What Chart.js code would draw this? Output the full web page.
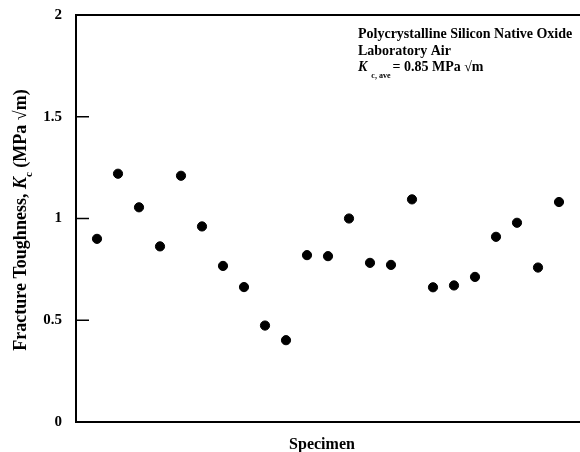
<!DOCTYPE html>
<html lang="en">
<head>
    <meta charset="UTF-8">
    <title>Fracture Toughness</title>
    <script src="https://cdn.jsdelivr.net/npm/chart.js"></script>
    <style>
        body { margin: 0; background: #fff; overflow: hidden; }
        #wrap { width: 580px; height: 452px; }
    </style>
</head>
<body>
    <div id="wrap"><canvas id="chart"></canvas></div>

    <script>
        // specimen number and measured Kc (MPa sqrt m)
        const specimens = [1, 2, 3, 4, 5, 6, 7, 8, 9, 10, 11, 12, 13, 14, 15, 16, 17, 18, 19, 20, 21, 22, 23];
        const toughness = [0.90, 1.22, 1.055, 0.863, 1.21, 0.961, 0.767, 0.663, 0.474, 0.402, 0.82, 0.815,
                           1.00, 0.782, 0.772, 1.094, 0.662, 0.671, 0.713, 0.91, 0.979, 0.759, 1.081];
        const yTicks = [0, 0.5, 1, 1.5, 2];
        const noteLines = ['Polycrystalline Silicon Native Oxide', 'Laboratory Air'];

        const SERIF = '"Liberation Serif", "Times New Roman", serif';

        // draws a row of text pieces, each with its own font and vertical shift
        function drawRuns(ctx, x, y, runs) {
            runs.forEach(r => {
                ctx.font = r.font;
                ctx.fillText(r.text, x, y + (r.dy || 0));
                x += ctx.measureText(r.text).width;
            });
        }

        const decor = {
            id: 'decor',
            afterDraw(chart) {
                const ctx = chart.ctx;
                const a = chart.chartArea;
                const y = chart.scales.y;
                ctx.save();
                ctx.strokeStyle = '#000';
                ctx.fillStyle = '#000';

                // top frame line
                ctx.lineWidth = 2;
                ctx.beginPath();
                ctx.moveTo(a.left, a.top);
                ctx.lineTo(a.right, a.top);
                ctx.stroke();

                // short inward tick marks
                ctx.lineWidth = 1.5;
                y.ticks.forEach(t => {
                    if (t.value <= 0 || t.value >= 2) return;
                    const py = y.getPixelForValue(t.value);
                    ctx.beginPath();
                    ctx.moveTo(a.left, py);
                    ctx.lineTo(a.left + 13, py);
                    ctx.stroke();
                });

                // annotation
                ctx.textAlign = 'left';
                ctx.textBaseline = 'alphabetic';
                ctx.font = 'bold 14px ' + SERIF;
                ctx.fillText(noteLines[0], 358, 38);
                ctx.fillText(noteLines[1], 358, 55);
                drawRuns(ctx, 358, 71, [
                    { text: 'K', font: 'italic bold 14px ' + SERIF },
                    { text: '  c, ave ', font: 'bold 8px ' + SERIF, dy: 7 },
                    { text: '= 0.85 MPa \u221Am', font: 'bold 14px ' + SERIF }
                ]);

                // x title
                ctx.textAlign = 'center';
                ctx.font = 'bold 16px ' + SERIF;
                ctx.fillText('Specimen', 322, 449);

                // y title (rotated, mixed styles)
                const runs = [
                    { text: 'Fracture Toughness, ', font: 'bold 18px ' + SERIF },
                    { text: 'K', font: 'italic bold 18px ' + SERIF },
                    { text: 'c', font: 'bold 11px ' + SERIF, dy: 6 },
                    { text: ' (MPa \u221Am)', font: 'bold 18px ' + SERIF }
                ];
                let total = 0;
                runs.forEach(r => { ctx.font = r.font; total += ctx.measureText(r.text).width; });
                ctx.translate(26, 220);
                ctx.rotate(-Math.PI / 2);
                ctx.textAlign = 'left';
                drawRuns(ctx, -total / 2, 0, runs);
                ctx.restore();
            }
        };

        new Chart(document.getElementById('chart'), {
            type: 'scatter',
            data: {
                datasets: [{
                    data: specimens.map((s, i) => ({ x: s, y: toughness[i] })),
                    backgroundColor: '#000',
                    borderColor: '#000',
                    pointRadius: 4.6,
                    pointHoverRadius: 4.6
                }]
            },
            options: {
                responsive: true,
                maintainAspectRatio: false,
                animation: false,
                layout: { autoPadding: false, padding: { top: 15, left: 0, right: 0, bottom: 0 } },
                plugins: { legend: { display: false }, tooltip: { enabled: false } },
                scales: {
                    x: {
                        type: 'linear',
                        min: 0,
                        max: 24,
                        grid: { display: false },
                        border: { display: true, color: '#000', width: 2 },
                        ticks: { display: false },
                        afterFit: s => { s.height = 30; s.paddingRight = 0; s.paddingLeft = 0; }
                    },
                    y: {
                        min: 0,
                        max: 2,
                        afterBuildTicks: s => { s.ticks = yTicks.map(v => ({ value: v })); },
                        grid: { display: false, drawTicks: false },
                        border: { display: true, color: '#000', width: 2 },
                        ticks: {
                            padding: 14,
                            color: '#000',
                            callback: v => String(v),
                            font: { family: SERIF, size: 15, weight: 'bold' }
                        },
                        afterFit: s => { s.width = 76; s.paddingTop = 0; s.paddingBottom = 0; }
                    }
                }
            },
            plugins: [decor]
        });
    </script>
</body>
</html>
